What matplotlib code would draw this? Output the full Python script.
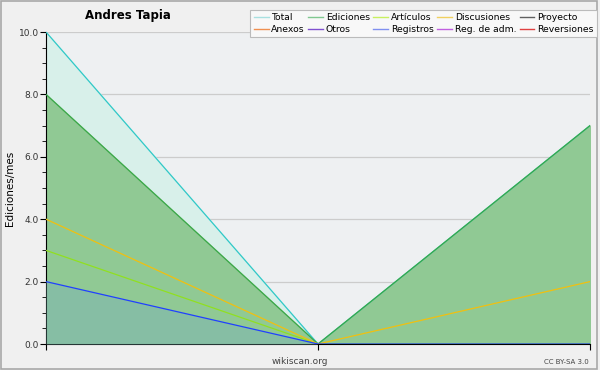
import matplotlib
matplotlib.use("Agg")
import matplotlib.pyplot as plt
from matplotlib.lines import Line2D
from matplotlib.patches import Rectangle

months = [0, 1, 2]
total = [10, 0, 7]
ediciones = [8, 0, 7]
articulos = [3, 0, 0]
discusiones = [4, 0, 2]
registros = [2, 0, 0]

legend_labels = ["Total", "Ediciones", "Artículos", "Discusiones", "Proyecto",
                 "Anexos", "Otros", "Registros", "Reg. de adm.", "Reversiones"]
legend_colors = ["#a8e0e0", "#80c890", "#c8f060", "#f0d060", "#606060",
                 "#f09050", "#8050d0", "#8090f0", "#c060e0", "#e04040"]

title = "Andres Tapia"
ylabel = "Ediciones/mes"
yticks = [0, 2, 4, 6, 8, 10]

plt.rcParams['font.family'] = ['DejaVu Sans']
fig = plt.figure(figsize=(6, 3.7), dpi=100, facecolor="#f0f0f0")
fig.patches.append(Rectangle((0.002, 0.004), 0.993, 0.994, transform=fig.transFigure,
                             fill=False, edgecolor="#a8a8a8", linewidth=1.2))

ax = fig.add_axes([46/600, 1-344/370, (590-46)/600, (344-32)/370])
ax.set_facecolor("#eef0f2")

ax.fill_between(months, total, 0, color="#d8f0ea", zorder=1)
ax.plot(months, total, color="#30c8c8", lw=0.9, zorder=4)
ax.fill_between(months, ediciones, 0, color="#90c994", zorder=2)
ax.plot(months, ediciones, color="#3aa848", lw=0.9, zorder=4)
ax.fill_between(months, registros, 0, color="#80b8b0", alpha=0.6, zorder=3, lw=0)
ax.plot(months, articulos, color="#90e020", lw=0.9, zorder=5)
ax.plot(months, discusiones, color="#f0c010", lw=0.9, zorder=5)
ax.plot(months, registros, color="#2040ff", lw=0.9, zorder=5)

ax.set_xlim(0, 2)
ax.set_ylim(0, 10)
ax.set_yticks(yticks)
ax.set_yticklabels([f"{v:.1f}" for v in yticks])
ax.set_yticks([v / 2 for v in range(0, 21)], minor=True)
ax.set_xticks(months)
ax.set_xticklabels([])
ax.grid(axis="y", color="#cccccc", lw=0.9, zorder=0)
ax.set_axisbelow(True)
for s in ["top", "right"]:
    ax.spines[s].set_visible(False)
ax.tick_params(axis="y", which="major", length=4, labelsize=6.5, colors="black",
               labelcolor="#333333", pad=1)
ax.tick_params(axis="y", which="minor", length=3)
ax.tick_params(axis="x", which="major", length=4)

fig.text(10/600, 1-188/370, ylabel, fontsize=7.5, rotation=90, ha="center", va="center")
fig.text(85/600, 1-15/370, title, fontsize=8.5, fontweight="bold", va="center", ha="left")
fig.text(300/600, 1-361/370, "wikiscan.org", fontsize=6.5, color="#444444", ha="center", va="center")
fig.text(589/600, 1-362/370, "CC BY-SA 3.0", fontsize=5, color="#444444", ha="right", va="center")

handles = [Line2D([], [], color=c, lw=1) for c in legend_colors]
order = []
for col in range(5):
    order.append(col)
    order.append(col + 5)
leg = fig.legend([handles[i] for i in order], [legend_labels[i] for i in order],
                 ncol=5, loc="upper right", bbox_to_anchor=(597/600, 1-10/370),
                 fontsize=6.7, frameon=True, fancybox=False, edgecolor="#bbbbbb",
                 facecolor="#f8f8f8", framealpha=1, handlelength=1.6, handletextpad=0.3,
                 columnspacing=0.35, labelspacing=0.3, borderpad=0.35, borderaxespad=0)
leg.get_frame().set_linewidth(0.8)

fig.savefig("out.png", dpi=100, facecolor=fig.get_facecolor())
